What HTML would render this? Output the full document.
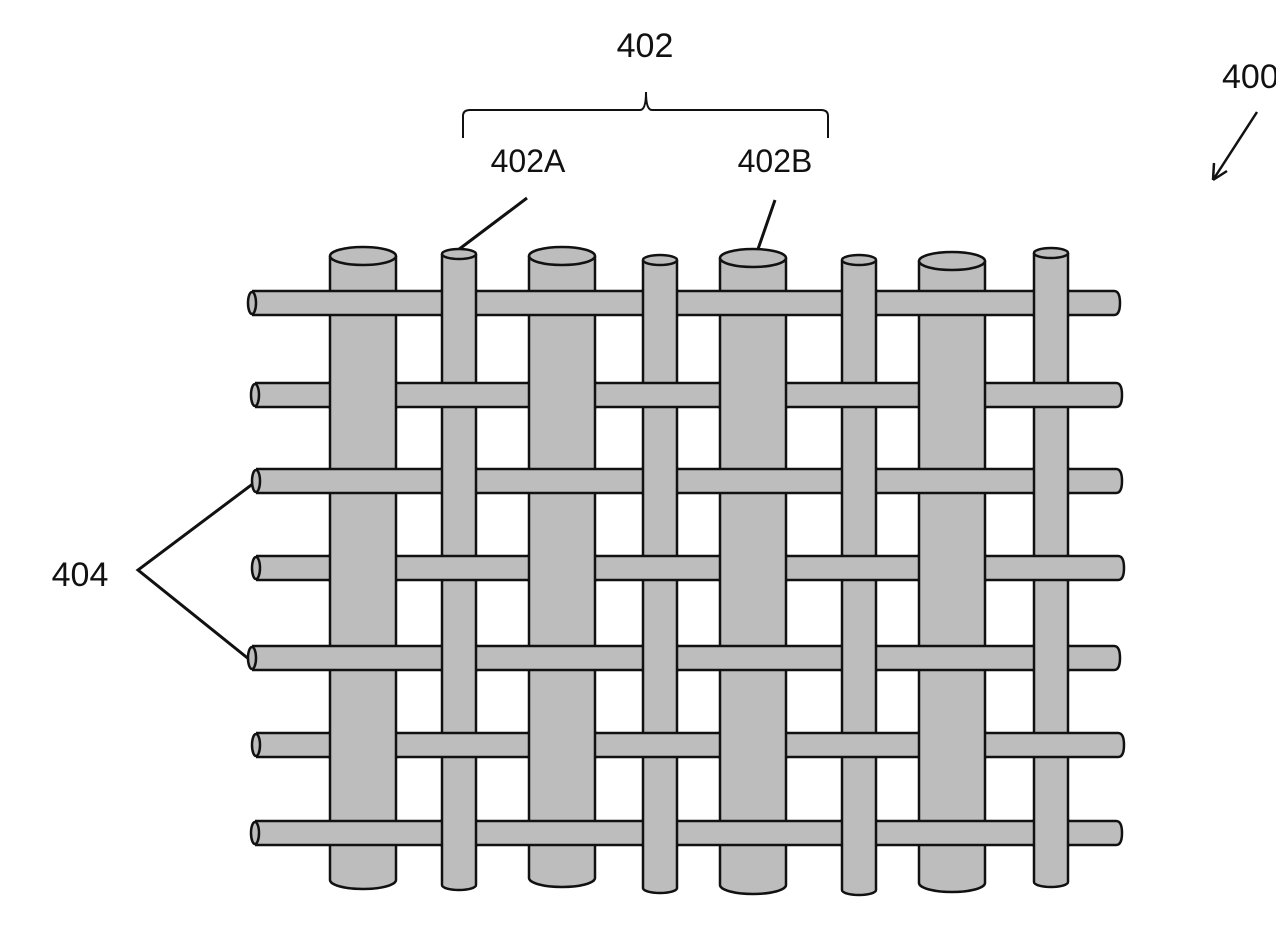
<!DOCTYPE html>
<html><head><meta charset="utf-8"><style>
html,body{margin:0;padding:0;background:#fff;}
svg{display:block;}
text{font-family:"Liberation Sans","DejaVu Sans",sans-serif;fill:#111;}
</style></head><body>
<svg id="s" width="1276" height="928" viewBox="0 0 1276 928" xmlns="http://www.w3.org/2000/svg">
<text x="645" y="57" font-size="34" text-anchor="middle">402</text>
<path d="M463 138 V116 Q463 110 470 110 H640 Q646 110 646 92 Q646 110 652 110 H821 Q828 110 828 116 V138" fill="none" stroke="#111" stroke-width="2"/>
<text x="528" y="172" font-size="32" text-anchor="middle">402A</text>
<text x="775" y="172" font-size="32" text-anchor="middle">402B</text>
<line x1="527" y1="198" x2="458" y2="250" stroke="#111" stroke-width="3"/>
<line x1="775" y1="200" x2="757" y2="252" stroke="#111" stroke-width="3"/>
<text x="1222" y="88" font-size="34">400</text>
<line x1="1257" y1="112" x2="1213" y2="180" stroke="#111" stroke-width="2.5"/>
<path d="M1213 180 L1214 163 M1213 180 L1227 171" stroke="#111" stroke-width="2.5" fill="none"/>
<text x="80" y="586" font-size="34" text-anchor="middle">404</text>
<path d="M258 480 L138 570 L250 660" fill="none" stroke="#111" stroke-width="3"/>
<g id="w"></g>
</svg>
<script>
var ns="http://www.w3.org/2000/svg",g=document.getElementById("w");
function el(t,a){var e=document.createElementNS(ns,t);for(var k in a)e.setAttribute(k,a[k]);g.appendChild(e);return e;}
var F="#bdbdbd",S="#111";
var cols=[[330,66,256,880],[442,34,254,885],[529,66,256,878],[643,34,260,888],[720,66,258,885],[842,34,260,890],[919,66,261,883],[1034,34,253,882]];
var rows=[[303,248,1120],[395,251,1122],[481,252,1122],[568,252,1124],[658,248,1120],[745,252,1124],[833,251,1122]];
var rh=24;
cols.forEach(function(c){var x=c[0],w=c[1],t=c[2],b=c[3],ry=w>50?9:5;
 el("path",{d:"M"+x+" "+t+" V"+b+" A"+(w/2)+" "+ry+" 0 0 0 "+(x+w)+" "+b+" V"+t,fill:F,stroke:S,"stroke-width":2.5});
 el("ellipse",{cx:x+w/2,cy:t,rx:w/2,ry:ry,fill:F,stroke:S,"stroke-width":2.5});
});
rows.forEach(function(r){var y=r[0],a=r[1],b=r[2];
 el("path",{d:"M"+(a+4)+" "+(y-rh/2)+" H"+(b-6)+" Q"+b+" "+(y-rh/2)+" "+b+" "+y+" Q"+b+" "+(y+rh/2)+" "+(b-6)+" "+(y+rh/2)+" H"+(a+4),fill:F,stroke:S,"stroke-width":2.5});
 el("ellipse",{cx:a+4,cy:y,rx:4,ry:rh/2-1,fill:F,stroke:S,"stroke-width":2.5});
});
rows.forEach(function(r,i){cols.forEach(function(c,j){
 var big=c[1]>50, odd=(i%2==0);
 if((odd&&!big)||(!odd&&big)){
  var x=c[0],w=c[1],y=r[0]-rh/2-2,h=rh+4;
  el("rect",{x:x,y:y,width:w,height:h,fill:F});
  el("path",{d:"M"+x+" "+y+" v"+h+" M"+(x+w)+" "+y+" v"+h,stroke:S,"stroke-width":2.5});
 }
});});
</script>
</body></html>
